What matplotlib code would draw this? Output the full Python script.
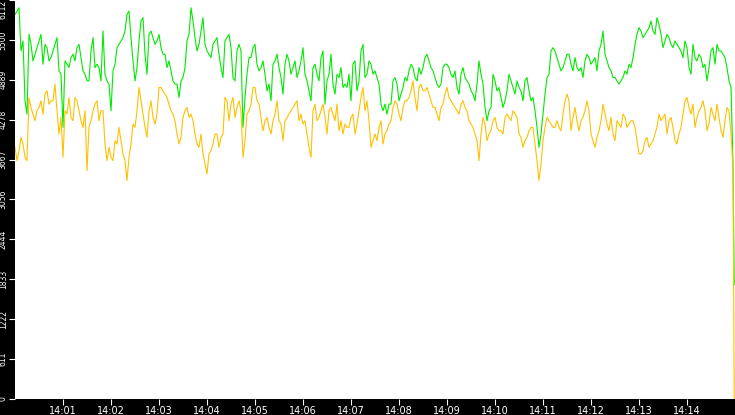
import numpy as np
import matplotlib
matplotlib.use("Agg")
import matplotlib.pyplot as plt

# values read every 5 s from 14:00:00 (green_a / orange_a) and halfway between (green_b / orange_b)
green_a = [
    5891, 5993, 5484, 4364, 5433, 5281, 5484, 5128, 5382, 5230, 5433, 5026, 4161, 5128, 5230,
    5179, 5433, 5026, 4873, 5332, 5077, 5077, 5637, 4873, 4415, 5128, 5433, 5535, 5891, 5535,
    4873, 5484, 5841, 4975, 5637, 5433, 5586, 5281, 5077, 5026, 4823, 4619, 4924, 5484, 5993,
    5535, 5433, 5841, 5332, 5230, 5484, 5281, 4924, 5535, 5382, 4873, 5433, 4161, 4975, 5230,
    5433, 5026, 5179, 4721, 4568, 5179, 5077, 4670, 5281, 4975, 5179, 5026, 5382, 4873, 4568,
    5128, 4873, 5332, 4873, 5281, 4670, 4924, 4772, 4772, 4568, 5179, 4873, 5433, 4975, 5128,
    5026, 4823, 4415, 4364, 4517, 4924, 4568, 4772, 4873, 5128, 4924, 5077, 5077, 5281, 5077,
    4924, 4772, 5077, 5128, 4975, 5026, 4670, 5077, 4873, 4721, 4568, 5179, 4823, 4263, 4466,
    4873, 4772, 4466, 4721, 4873, 4670, 4772, 4568, 4924, 4568, 4415, 3855, 4364, 4924, 5332,
    5332, 5128, 5077, 5281, 5128, 5230, 5026, 4924, 5281, 5128, 5230, 5332, 5637, 5179, 5026,
    4924, 4823, 4924, 4975, 5077, 5433, 5688, 5535, 5637, 5790, 5586, 5739, 5382, 5586, 5433,
    5484, 5382, 5230, 5382, 4975, 5230, 5281, 5077, 4873, 5332, 5128, 5332, 5281, 5077, 4772,
]
green_b = [
    5942, 5332, 4568, 5586, 5179, 5382, 5586, 5433, 5179, 5332, 5535, 4975, 5179, 5077, 5281,
    5382, 5230, 4975, 4873, 5535, 5128, 4873, 4975, 4823, 5026, 5382, 5484, 5637, 5942, 5179,
    5077, 5790, 5281, 5586, 5535, 5484, 5382, 5281, 5179, 4873, 4823, 4873, 5077, 5586, 5790,
    5332, 5637, 5433, 5281, 5433, 5535, 5077, 5484, 5586, 4924, 5332, 5332, 4619, 5230, 5382,
    5128, 5077, 4975, 4823, 5128, 5281, 4924, 5128, 5179, 5077, 4924, 5179, 4975, 4721, 5077,
    4975, 5230, 4517, 4975, 4823, 4975, 5077, 4823, 4975, 5128, 4721, 5332, 4924, 5179, 4975,
    4924, 4517, 4517, 4517, 4873, 4823, 4670, 4924, 5026, 5077, 4873, 4975, 5230, 5179, 5026,
    4823, 4823, 5128, 5077, 4924, 4772, 4975, 4924, 4823, 4670, 4823, 4975, 4466, 4415, 4975,
    4721, 4619, 4568, 4975, 4772, 4873, 4721, 4873, 4721, 4619, 4161, 4059, 4670, 4975, 5382,
    5230, 5026, 5179, 5281, 5026, 5077, 5077, 5179, 5230, 5179, 5026, 5433, 5281, 5077, 4924,
    4873, 4873, 5026, 5128, 5230, 5586, 5637, 5586, 5688, 5637, 5841, 5586, 5484, 5535, 5382,
    5433, 5332, 5484, 5077, 5433, 5179, 5230, 5128, 5077, 5382, 5433, 5332, 5230, 4873, 3600,
]
orange_a = [
    3855, 3805, 3906, 3652, 4466, 4263, 4466, 4364, 4721, 4568, 4823, 4059, 3703, 4364, 4314,
    4619, 4415, 4161, 3499, 4263, 4517, 4263, 4415, 3652, 3703, 3957, 4161, 3754, 3346, 3906,
    4161, 4772, 4364, 4008, 4568, 4212, 4772, 4721, 4619, 4415, 4263, 3906, 4314, 4466, 4364,
    4059, 3855, 3754, 3448, 3805, 4059, 3855, 4059, 4568, 4517, 4314, 4568, 3703, 4364, 4517,
    4772, 4517, 4110, 4314, 4059, 4364, 4263, 3957, 4314, 4415, 4517, 4263, 4212, 4059, 3703,
    4517, 4314, 4517, 4059, 4466, 4263, 4110, 4059, 4161, 4314, 4059, 4415, 4772, 4568, 3855,
    4059, 4161, 3906, 4110, 4263, 4568, 4364, 4466, 4568, 4721, 4619, 4772, 4721, 4772, 4568,
    4466, 4263, 4517, 4772, 4568, 4466, 4364, 4568, 4415, 4212, 4059, 3652, 4314, 3957, 4110,
    4314, 4110, 4059, 4364, 4263, 4364, 4059, 3855, 4008, 4161, 3906, 3346, 3957, 4314, 4212,
    4161, 4161, 4364, 4670, 4110, 4466, 4110, 4314, 4568, 4059, 3855, 4110, 4517, 4212, 4314,
    3957, 4212, 4364, 4161, 4263, 4161, 3754, 3805, 4008, 3906, 4059, 4364, 4314, 4059, 4314,
    3957, 4059, 4364, 4619, 4364, 4161, 4415, 4568, 4110, 4466, 4263, 4314, 4008, 4466, 4059,
]
orange_b = [
    3652, 4008, 3703, 4619, 4364, 4415, 4568, 4670, 4517, 4568, 4415, 4314, 4415, 4619, 4263,
    4568, 4263, 4415, 4161, 4415, 4568, 4415, 3906, 3855, 3652, 3906, 3957, 3652, 3703, 4212,
    4415, 4568, 4161, 4415, 4314, 4364, 4772, 4670, 4517, 4364, 4059, 4008, 4415, 4314, 4263,
    3906, 4059, 3601, 3754, 3906, 4059, 4008, 4619, 4263, 4619, 4466, 4415, 3957, 4415, 4772,
    4568, 4314, 4263, 4161, 4263, 4568, 4212, 4263, 4364, 4466, 4568, 4364, 4263, 3855, 4415,
    4263, 4415, 4314, 4415, 4364, 4517, 4263, 4212, 4161, 4364, 4212, 4619, 4415, 4263, 3957,
    3957, 4263, 4059, 4212, 4466, 4517, 4263, 4568, 4619, 4873, 4415, 4823, 4721, 4670, 4466,
    4364, 4466, 4670, 4619, 4517, 4415, 4517, 4466, 4263, 4161, 3957, 4059, 4212, 4059, 4263,
    4161, 4110, 4314, 4314, 4415, 4314, 4008, 3957, 4110, 4161, 3652, 3601, 4161, 4263, 4161,
    4263, 4110, 4568, 4568, 4314, 4263, 4263, 4415, 4415, 3957, 4008, 4263, 4364, 4110, 4059,
    4263, 4161, 4314, 4212, 4263, 3957, 3754, 3957, 3855, 3957, 4161, 4263, 4364, 4263, 4161,
    3906, 4161, 4568, 4466, 4517, 4314, 4466, 4415, 4212, 4364, 4517, 4110, 4263, 4415, 3550,
]
# last sample, where both series fall away
green_end = 1750
orange_end = 0

yticks = [0, 611, 1222, 1833, 2444, 3056, 3667, 4278, 4889, 5500, 6112]
xticks = [60 * m for m in range(1, 15)]
xlabels = ["14:%02d" % m for m in range(1, 15)]

t_a = np.arange(len(green_a)) * 5.0
t = np.append(np.column_stack([t_a, t_a + 2.5]).ravel(), 899)
g = np.append(np.column_stack([green_a, green_b]).ravel(), green_end)
o = np.append(np.column_stack([orange_a, orange_b]).ravel(), orange_end)

fig = plt.figure(figsize=(7.35, 4.15), dpi=100, facecolor="black")
ax = fig.add_axes([15 / 735, 16 / 415, 720 / 735, 399 / 415])
ax.set_facecolor("white")

ax.plot(t, g, color="#00ea00", lw=0.8)
ax.plot(t, o, color="#ffc000", lw=0.8)

ax.set_xlim(0, 900)
ax.set_ylim(0, 6112)
ax.set_yticks(yticks)
ax.set_yticklabels([str(v) for v in yticks], rotation=90, va="center")
ax.get_yticklabels()[-1].set_va("top")
ax.set_xticks(xticks)
ax.set_xticklabels(xlabels)

ax.tick_params(axis="y", colors="white", labelsize=5.5, length=4, width=0.8, pad=1.2)
ax.tick_params(axis="x", colors="white", labelsize=7, length=4, width=0.8, pad=0.8)
for s in ax.spines.values():
    s.set_visible(False)

fig.savefig("out.png", dpi=100, facecolor="black")
